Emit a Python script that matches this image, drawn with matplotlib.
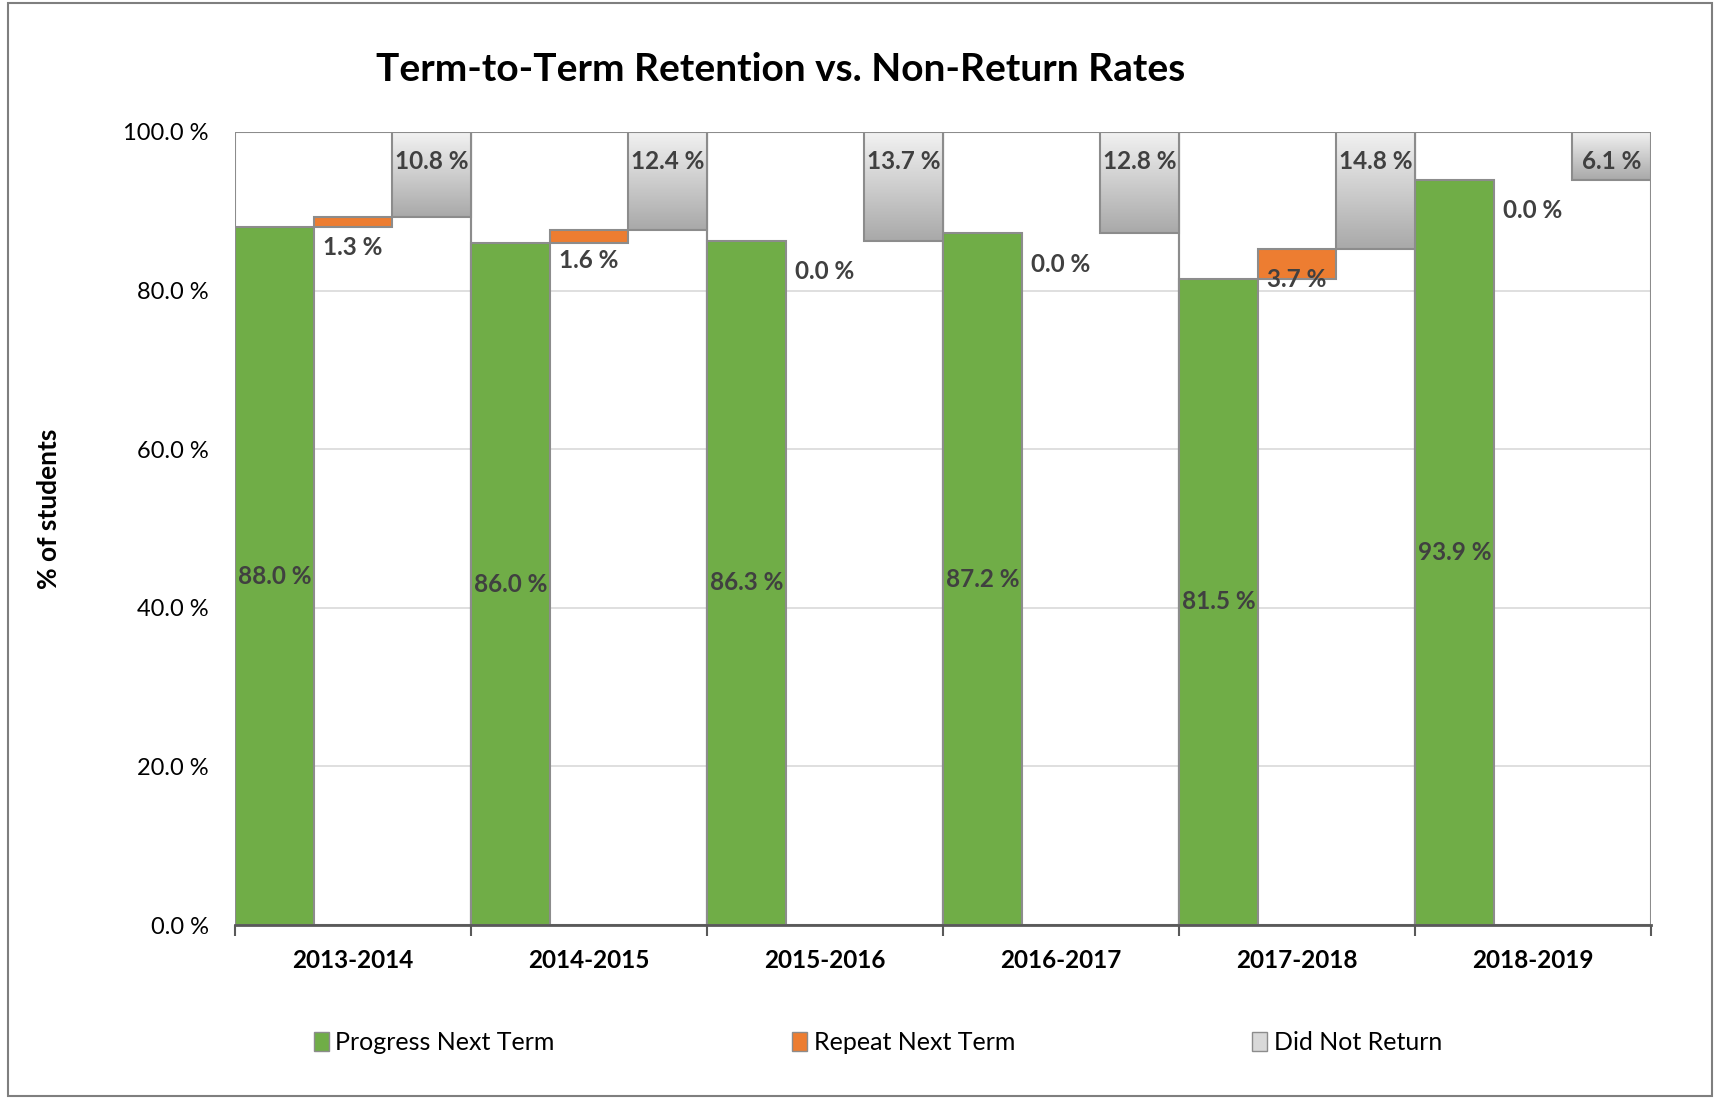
import numpy as np
import matplotlib
matplotlib.use("Agg")
import matplotlib.pyplot as plt
from matplotlib.patches import Rectangle, Patch

plt.rcParams['font.family'] = ['Lato', 'DejaVu Sans']

years = ["2013-2014", "2014-2015", "2015-2016", "2016-2017", "2017-2018", "2018-2019"]
progress = [88.0, 86.0, 86.3, 87.2, 81.5, 93.9]
repeat = [1.3, 1.6, 0.0, 0.0, 3.7, 0.0]
not_return = [10.8, 12.4, 13.7, 12.8, 14.8, 6.1]
yticks = [0, 20, 40, 60, 80, 100]

green = '#70AD47'
orange = '#ED7D31'
edge = '#8c8c8c'
label_col = '#404040'

fig = plt.figure(figsize=(17.15, 10.99), dpi=100)
ax = fig.add_axes([0.137, 0.1583, 0.8257, 0.7216])

x = np.arange(len(years))
w = 1 / 3

# category outline boxes
for i in x:
    ax.add_patch(Rectangle((i - 0.5, 0), 1, 100, fill=False, edgecolor=edge, lw=1.5, zorder=1))

ax.bar(x - w, progress, width=w, color=green, edgecolor=edge, lw=1.5, zorder=3)
# zero-height repeat bars draw no outline
ax.bar(x, repeat, bottom=progress, width=w, color=orange, edgecolor=edge,
       lw=[1.5 if r > 0 else 0 for r in repeat], zorder=3)

bottoms = [p + r for p, r in zip(progress, repeat)]
grad = np.linspace(0, 1, 100).reshape(-1, 1)
cmap = matplotlib.colors.LinearSegmentedColormap.from_list('g', ['#a9a9a9', '#f2f2f2'])
for i in x:
    x0, x1 = i + w / 2, i + 1.5 * w
    y0, y1 = bottoms[i], min(bottoms[i] + not_return[i], 100)
    ax.imshow(grad, extent=(x0, x1, y0, y1), origin='lower', aspect='auto', cmap=cmap, zorder=3)
    ax.add_patch(Rectangle((x0, y0), w, y1 - y0, fill=False, edgecolor=edge, lw=1.5, zorder=4))

lab = dict(fontsize=17.5, fontweight='bold', color=label_col, ha='center', va='center',
           annotation_clip=False, textcoords='offset points', zorder=5)
for i in x:
    ax.annotate(f"{progress[i]:.1f} %", (i - w, progress[i] / 2), xytext=(0, 0), **lab)
    ax.annotate(f"{repeat[i]:.1f} %", (i, bottoms[i]), xytext=(0, -22), **lab)
    ax.annotate(f"{not_return[i]:.1f} %", (i + w, 100), xytext=(0, -21), **lab)

ax.set_xlim(-0.5, len(years) - 0.5)
ax.set_ylim(0, 100)
ax.set_yticks(yticks)
ax.set_yticklabels([f"{v:.1f} %" for v in yticks], fontsize=17)
ax.tick_params(axis='y', length=0, pad=19)
ax.set_xticks(x)
ax.set_xticklabels(years, fontsize=17.5, fontweight='bold')
ax.set_xticks(np.arange(len(years) + 1) - 0.5, minor=True)
ax.tick_params(axis='x', which='major', length=0, pad=17)
ax.tick_params(axis='x', which='minor', length=8, width=1.5, color='#595959', direction='out')
ax.grid(axis='y', color='#d9d9d9', lw=1.2, zorder=0)
ax.set_axisbelow(True)
for s in ['left', 'right', 'top']:
    ax.spines[s].set_visible(False)
ax.spines['bottom'].set_color('#595959')
ax.spines['bottom'].set_linewidth(2)
ax.spines['bottom'].set_zorder(6)

ax.set_ylabel("% of students", fontsize=19, fontweight='bold', labelpad=0)
ax.yaxis.set_label_coords(-0.123, 0.525)

fig.text(0.455, 0.937, "Term-to-Term Retention vs. Non-Return Rates", fontsize=28, fontweight='bold',
         ha='center', va='center')

handles = [Patch(facecolor=green, edgecolor=edge), Patch(facecolor=orange, edgecolor=edge),
           Patch(facecolor='#d9d9d9', edgecolor=edge)]
fig.legend(handles, ["Progress Next Term", "Repeat Next Term", "Did Not Return"], loc='center',
           bbox_to_anchor=(0.512, 0.051), ncol=3, frameon=False, fontsize=18, handlelength=0.6,
           handleheight=0.8, handletextpad=0.25, columnspacing=9.5)

fig.patches.append(Rectangle((0.0045, 0.003), 0.9935, 0.994, transform=fig.transFigure, fill=False,
                             edgecolor='#7f7f7f', lw=1.5))

fig.savefig("out.png", dpi=100)
